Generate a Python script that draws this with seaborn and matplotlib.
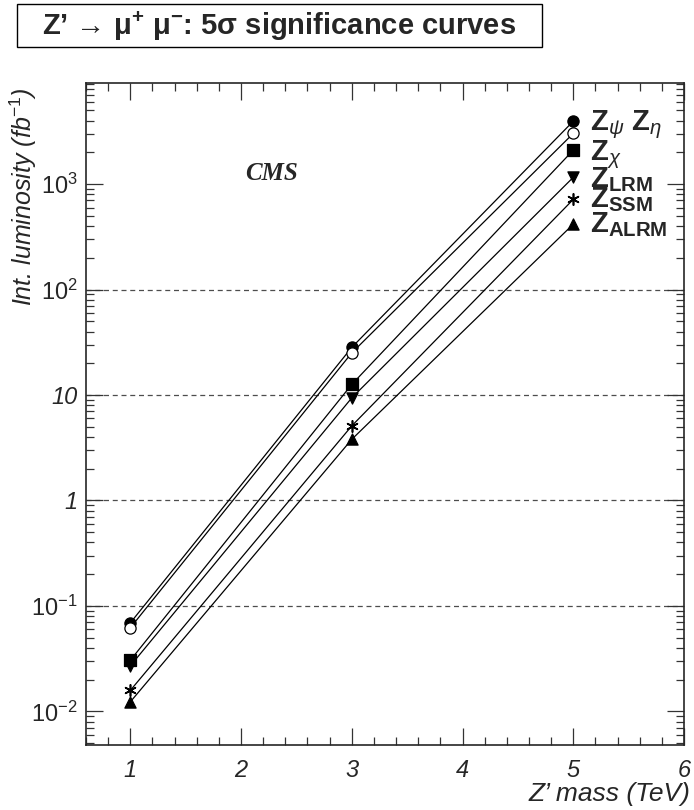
import matplotlib
matplotlib.use("Agg")
import matplotlib.pyplot as plt
import matplotlib.ticker as mticker
from matplotlib.patches import Rectangle
import numpy as np
import pandas as pd
import seaborn as sns

# Z' -> mu mu, 5 sigma discovery luminosity vs mass
mass = [1, 3, 5]
z_psi = [0.069, 28.3, 3950]
z_eta = [0.062, 25.1, 3025]
z_chi = [0.0305, 12.6, 2100]
z_lrm = [0.027, 9.4, 1160]
z_ssm = [0.0158, 5.1, 716]
z_alrm = [0.0123, 3.8, 417]

models = ["psi", "eta", "chi", "LRM", "SSM", "ALRM"]
series = [z_psi, z_eta, z_chi, z_lrm, z_ssm, z_alrm]
markers = ["o", "o", "s", "v", (6, 2, 0), "^"]
filled = [True, False, True, True, True, True]

legend_labels = [r"$\mathbf{Z}_{\psi}\ \mathbf{Z}_{\eta}$", r"$\mathbf{Z}_{\chi}$",
                 r"$\mathbf{Z}_{\mathbf{LRM}}$", r"$\mathbf{Z}_{\mathbf{SSM}}$",
                 r"$\mathbf{Z}_{\mathbf{ALRM}}$"]
# baseline of each big "Z" (in luminosity units)
legend_y = [3250, 1690, 936, 605, 351]

grid_levels = [0.1, 1, 10, 100]
ytick_vals = [1e-2, 1e-1, 1, 10, 1e2, 1e3]
ytick_labels = [r"$10^{-2}$", r"$10^{-1}$", "1", "10", r"$10^{2}$", r"$10^{3}$"]

df = pd.DataFrame({
    "mass": mass * len(models),
    "lumi": [v for s in series for v in s],
    "model": [m for m in models for _ in mass],
})

sns.set_style("ticks")
plt.rcParams["font.family"] = ["Liberation Sans", "DejaVu Sans"]
plt.rcParams["mathtext.fontset"] = "custom"
plt.rcParams["mathtext.rm"] = "Liberation Sans"
plt.rcParams["mathtext.it"] = "Liberation Sans:italic"
plt.rcParams["mathtext.bf"] = "Liberation Sans:bold"
plt.rcParams["mathtext.default"] = "it"

fig = plt.figure(figsize=(6.94, 8.10), dpi=100)
ax = fig.add_axes([86 / 694, 1 - 745 / 810, 598 / 694, 662 / 810])

sns.lineplot(data=df, x="mass", y="lumi", hue="model", hue_order=models,
             palette=["black"] * len(models), linewidth=0.9, legend=False,
             ax=ax, sort=True)

for m, mk, fl in zip(models, markers, filled):
    sub = df[df["model"] == m]
    sns.scatterplot(data=sub, x="mass", y="lumi", marker=mk, s=65,
                    color="black" if fl else "white",
                    edgecolor="black", linewidth=0.9 if mk != (6, 2, 0) else 1.2,
                    legend=False, ax=ax, zorder=3)

for g in grid_levels:
    ax.axhline(g, color="0.3", linestyle=(0, (4, 3)), linewidth=0.9, zorder=0)

ax.set_yscale("log")
ax.set_xlim(0.6, 6)
ax.set_ylim(4.8e-3, 9.1e3)

ax.xaxis.set_minor_locator(mticker.MultipleLocator(0.2))
ax.set_xticks([1, 2, 3, 4, 5, 6])
ax.set_xticklabels(["1", "2", "3", "4", "5", "6"], fontstyle="italic", fontsize=17)
ax.set_yticks(ytick_vals)
ax.set_yticklabels(ytick_labels, fontstyle="italic", fontsize=17)
ax.yaxis.set_minor_locator(mticker.LogLocator(base=10, subs=np.arange(2, 10)))
ax.yaxis.set_minor_formatter(mticker.NullFormatter())

ax.tick_params(which="both", direction="in", top=True, right=True, width=0.9,
               color="0.2")
ax.tick_params(which="major", length=12)
ax.tick_params(which="minor", length=6)
ax.tick_params(axis="x", which="major", pad=10)
ax.tick_params(axis="y", which="major", pad=6)
for sp in ax.spines.values():
    sp.set_linewidth(1.2)

ax.set_xlabel("Z’ mass (TeV)", fontstyle="italic", fontsize=19, ha="right")
ax.xaxis.set_label_coords(1.01, -0.056)
ax.set_ylabel(r"Int. luminosity (fb$^{-1}$)", fontstyle="italic", fontsize=18,
              ha="right")
ax.yaxis.set_label_coords(-0.078, 0.994)

for lab, yv in zip(legend_labels, legend_y):
    ax.text(5.15, yv, lab, fontsize=21, va="baseline", ha="left")

ax.text(0.311, 0.864, "CMS", transform=ax.transAxes, fontsize=18,
        family="Liberation Serif", fontweight="bold", fontstyle="italic",
        ha="center", va="center")

fig.patches.append(Rectangle((17 / 694, 1 - 47 / 810), 525 / 694, 43 / 810,
                             transform=fig.transFigure, fill=False,
                             edgecolor="black", linewidth=1.0))
fig.text(279 / 694, 1 - 26 / 810,
         r"Z’ → μ$^{\mathbf{+}}$ μ$^{\mathbf{-}}$: 5σ significance curves",
         fontsize=21, fontweight="bold", ha="center", va="center")

fig.savefig("out.png", dpi=100)
